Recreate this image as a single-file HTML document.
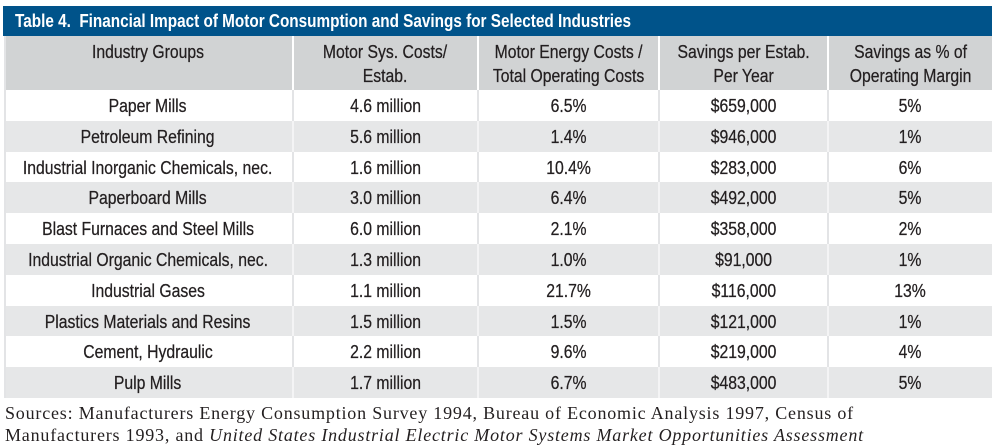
<!DOCTYPE html>
<html>
<head>
<meta charset="utf-8">
<style>
  html,body{margin:0;padding:0;background:#fff;}
  body{width:997px;height:447px;position:relative;overflow:hidden;}
  .title{position:absolute;left:3px;top:6px;width:989px;height:30px;background:#00538a;}
  .title span{position:absolute;left:12px;top:4px;font-family:"Liberation Sans",sans-serif;font-weight:bold;font-size:18px;color:#fff;white-space:nowrap;line-height:22px;transform:scaleX(0.85);transform-origin:0 0;}
  .cell{position:absolute;box-sizing:border-box;text-align:center;font-family:"Liberation Sans",sans-serif;font-size:18px;color:#231f20;white-space:nowrap;-webkit-text-stroke:0.25px #231f20;}
  .cell span{display:inline-block;transform:scaleX(0.875);transform-origin:50% 50%;}
  .hd{background:#d1d3d4;border-right:2px solid #fff;line-height:23.5px;padding-top:5px;}
  .w{background:#fff;border-right:2px solid #e3e4e6;}
  .g{background:#e6e7e8;border-right:2px solid #f4f4f5;}
  .src{position:absolute;left:5px;top:402px;font-family:"Liberation Serif",serif;font-size:18px;line-height:22px;color:#231f20;white-space:nowrap;letter-spacing:0.8px;}
  .lb{position:absolute;left:4px;top:36px;width:2px;height:362px;background:#e3e4e6;}
</style>
</head>
<body>
<div class="title"><span>Table 4.&nbsp; Financial Impact of Motor Consumption and Savings for Selected Industries</span></div>

<div class="cell hd" style="left:4px;top:36px;width:290px;height:54px;"><span>Industry Groups</span></div>
<div class="cell hd" style="left:294px;top:36px;width:185px;height:54px;"><span>Motor Sys. Costs/<br>Estab.</span></div>
<div class="cell hd" style="left:479px;top:36px;width:181px;height:54px;"><span>Motor Energy Costs /<br>Total Operating Costs</span></div>
<div class="cell hd" style="left:660px;top:36px;width:169px;height:54px;"><span>Savings per Estab.<br>Per Year</span></div>
<div class="cell hd" style="left:829px;top:36px;width:163px;height:54px;border-right:none;"><span>Savings as % of<br>Operating Margin</span></div>

<div id="rows"></div>
<script>
(function(){
  var data=[
    ["Paper Mills","4.6 million","6.5%","$659,000","5%"],
    ["Petroleum Refining","5.6 million","1.4%","$946,000","1%"],
    ["Industrial Inorganic Chemicals, nec.","1.6 million","10.4%","$283,000","6%"],
    ["Paperboard Mills","3.0 million","6.4%","$492,000","5%"],
    ["Blast Furnaces and Steel Mills","6.0 million","2.1%","$358,000","2%"],
    ["Industrial Organic Chemicals, nec.","1.3 million","1.0%","$91,000","1%"],
    ["Industrial Gases","1.1 million","21.7%","$116,000","13%"],
    ["Plastics Materials and Resins","1.5 million","1.5%","$121,000","1%"],
    ["Cement, Hydraulic","2.2 million","9.6%","$219,000","4%"],
    ["Pulp Mills","1.7 million","6.7%","$483,000","5%"]
  ];
  var xs=[4,294,479,660,829,992];
  var html="";
  for(var i=0;i<data.length;i++){
    var y0=Math.round(90+i*30.8), y1=Math.round(90+(i+1)*30.8);
    var cls=(i%2==0)?"w":"g";
    for(var j=0;j<5;j++){
      var w=xs[j+1]-xs[j];
      var br=(j==4)?"border-right:none;":"";
      var h=y1-y0;
      html+='<div class="cell '+cls+'" style="left:'+xs[j]+'px;top:'+y0+'px;width:'+w+'px;height:'+h+'px;line-height:'+h+'px;padding-top:1px;'+br+'"><span>'+data[i][j]+'</span></div>';
    }
  }
  document.getElementById("rows").innerHTML=html;
})();
</script>
<div class="lb"></div>

<div class="src">Sources: Manufacturers Energy Consumption Survey 1994, Bureau of Economic Analysis 1997, Census of<br>Manufacturers 1993, and <i>United States Industrial Electric Motor Systems Market Opportunities Assessment</i></div>
</body>
</html>
